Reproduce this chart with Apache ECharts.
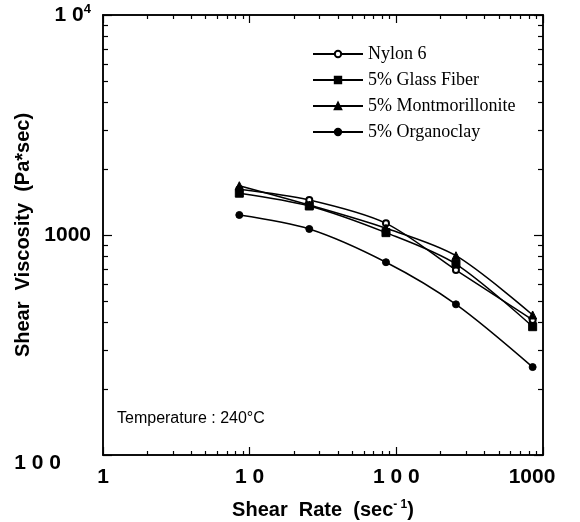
<!DOCTYPE html>
<html>
<head>
<meta charset="utf-8">
<script src="https://cdn.jsdelivr.net/npm/echarts@6/dist/echarts.min.js"></script>
<style>html,body{margin:0;padding:0;background:#fff}#c{width:580px;height:522px}</style>
</head>
<body>
<div id="c"></div>
<script>
const shearRate = [8.5, 25.5, 85, 255, 850];
const nylon6 = [1614, 1442, 1130, 693, 411];
const glassFiber = [1549, 1355, 1025, 738, 383];
const montmorillonite = [1675, 1368, 1073, 805, 433];
const organoclay = [1233, 1065, 752, 484, 251];
const seriesNames = ['Nylon 6', '5% Glass Fiber', '5% Montmorillonite', '5% Organoclay'];
const xMajorTicks = [1, 10, 100, 1000];
const xMinorTicks = [2, 3, 4, 5, 6, 7, 8, 9, 20, 30, 40, 50, 60, 70, 80, 90, 200, 300, 400, 500, 600, 700, 800, 900];
const yMajorTicks = [100, 1000, 10000];
const yMinorTicks = [200, 300, 400, 500, 600, 700, 800, 900, 2000, 3000, 4000, 5000, 6000, 7000, 8000, 9000];
const xTickLabels = {1: '1', 10: '1 0', 100: '1 0 0', 1000: '{far|1000}'};
const yTickLabels = {100: '{low|1 0 0}', 1000: '1000', 10000: '1 0{sup|4}'};

const sans = 'Liberation Sans';
const pair = (ys) => shearRate.map((x, i) => [x, ys[i]]);

const chart = echarts.init(document.getElementById('c'), null, {renderer: 'canvas'});

function mkAxis(isX, position, major, withLabels) {
  const min = isX ? 1 : 100, max = isX ? 1000 : 10000;
  const ticks = major ? (isX ? xMajorTicks : yMajorTicks) : (isX ? xMinorTicks : yMinorTicks);
  const len = major ? (isX ? 8 : 9) : (isX ? 4 : 5);
  const ax = {
    type: 'log', logBase: 10, min, max, position, offset: 0,
    axisLine: {show: true, onZero: false, lineStyle: {color: '#000', width: 1.5}},
    axisTick: {show: true, inside: true, length: len, customValues: ticks, lineStyle: {color: '#000', width: 1.2}},
    minorTick: {show: false},
    splitLine: {show: false},
    axisLabel: {show: false}
  };
  if (withLabels) {
    if (isX) {
      ax.name = 'Shear  Rate  (sec{sup|- 1})';
      ax.nameLocation = 'middle'; ax.nameGap = 44; ax.nameMoveOverlap = false;
      ax.nameTextStyle = {fontFamily: sans, fontWeight: 'bold', fontSize: 20, color: '#000',
        rich: {sup: {fontFamily: sans, fontWeight: 'bold', fontSize: 12, color: '#000', verticalAlign: 'top', padding: [0, 0, 10, 0]}}};
      ax.axisLabel = {
        show: true, margin: 12, fontFamily: sans, fontWeight: 'bold', fontSize: 21, color: '#000',
        customValues: xMajorTicks,
        formatter: v => xTickLabels[Math.round(v)] || '',
        rich: {far: {fontFamily: sans, fontWeight: 'bold', fontSize: 21, color: '#000', padding: [0, 22, 0, 0]}}
      };
    } else {
      ax.name = 'Shear  Viscosity  (Pa*sec)';
      ax.nameLocation = 'middle'; ax.nameGap = 70; ax.nameMoveOverlap = false;
      ax.nameTextStyle = {fontFamily: sans, fontWeight: 'bold', fontSize: 20, color: '#000'};
      ax.axisLabel = {
        show: true, margin: 12, fontFamily: sans, fontWeight: 'bold', fontSize: 21, color: '#000',
        customValues: yMajorTicks,
        formatter: v => yTickLabels[Math.round(v)] || '',
        rich: {
          sup: {fontFamily: sans, fontWeight: 'bold', fontSize: 13, color: '#000', verticalAlign: 'top', padding: [0, 0, 12, 0]},
          low: {fontFamily: sans, fontWeight: 'bold', fontSize: 21, color: '#000', padding: [16, 30, 0, 0]}
        }
      };
    }
  }
  return ax;
}

const mkSeries = (name, data, symbol, size) => ({
  name, type: 'line', data: pair(data), symbol, symbolSize: size,
  xAxisIndex: 0, yAxisIndex: 0,
  smooth: 0.3, showSymbol: true,
  lineStyle: {color: '#000', width: 1.5},
  itemStyle: {color: '#000', borderColor: '#000', borderWidth: 1}
});

chart.setOption({
  animation: false,
  backgroundColor: '#fff',
  grid: {left: 103, right: 37, top: 15, bottom: 67, containLabel: false, outerBoundsMode: 'none'},
  legend: {
    orient: 'vertical', left: 307, top: 40,
    itemWidth: 50, itemHeight: 8, itemGap: 8,
    data: seriesNames,
    textStyle: {fontFamily: 'Liberation Serif', fontSize: 18, color: '#000'}
  },
  xAxis: [
    mkAxis(true, 'bottom', true, true),
    mkAxis(true, 'bottom', false, false),
    mkAxis(true, 'top', true, false),
    mkAxis(true, 'top', false, false)
  ],
  yAxis: [
    mkAxis(false, 'left', true, true),
    mkAxis(false, 'left', false, false),
    mkAxis(false, 'right', true, false),
    mkAxis(false, 'right', false, false)
  ],
  graphic: [{
    type: 'text', left: 117, top: 411,
    style: {text: 'Temperature : 240°C', fontFamily: sans, fontSize: 16, fill: '#000'}
  }],
  series: [
    mkSeries(seriesNames[0], nylon6, 'emptyCircle', 6),
    mkSeries(seriesNames[1], glassFiber, 'rect', 8),
    mkSeries(seriesNames[2], montmorillonite, 'triangle', 8),
    mkSeries(seriesNames[3], organoclay, 'circle', 7)
  ]
});
</script>
</body>
</html>
